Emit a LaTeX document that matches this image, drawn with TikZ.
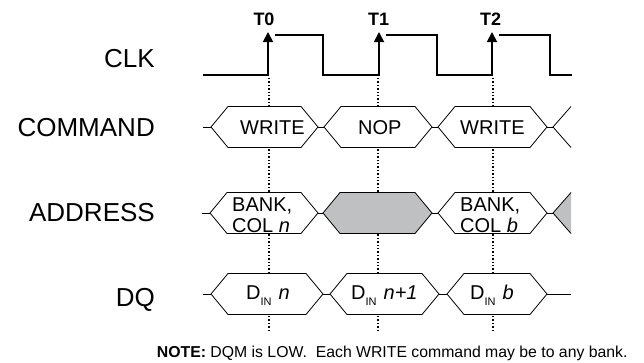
\documentclass[tikz,border=0pt]{standalone}
\usepackage{fontspec}
\setmainfont{Liberation Sans}
\usetikzlibrary{arrows.meta}
\definecolor{busgray}{RGB}{191,192,194}
\tikzset{
  signame/.style={font=\fontsize{26}{28}\selectfont, anchor=base east, inner sep=0pt},
  edgename/.style={font=\bfseries\fontsize{18}{20}\selectfont, anchor=base, inner sep=0pt},
  buslabel/.style={font=\fontsize{20}{21}\selectfont, anchor=base west, inner sep=0pt},
  clkline/.style={line width=1.8pt},
  busline/.style={line width=0.8pt},
  guide/.style={line width=1.4pt, dash pattern=on 1.4pt off 2pt},
  edgetip/.style={-{Triangle[width=10pt,length=10pt]}},
}
\newcommand{\din}[1]{D\raisebox{-6pt}{\fontsize{11}{11}\selectfont IN}\hspace{7pt}\textit{#1}}
\begin{document}
\begin{tikzpicture}[x=1pt,y=-1pt]
	\useasboundingbox (0,0) rectangle (644,362);

	% Signal names
	\node[signame] (clk) at (155,67) {CLK};
	\node[signame] (cmd) at (155,136.5) {COMMAND};
	\node[signame] (addr) at (155,221.5) {ADDRESS};
	\node[signame] (dq) at (155,306.5) {DQ};

	% Clock edge names
	\foreach \t/\x in {0/264,1/378.5,2/490.5}
	\node[edgename] (T\t) at (\x,25.5) {T\t};

	% Draw dotted guides at the rising edges
	\foreach \x in {269,378,493}
	\draw[guide] (\x,78) -- (\x,332);

	% Draw clock
	\draw[clkline, edgetip] (203,75) -- (268,75) -- (268,32);
	\draw[clkline, edgetip] (275,35) -- (323,35) -- (323,75) -- (379,75) -- (379,32);
	\draw[clkline, edgetip] (386,35) -- (437,35) -- (437,75) -- (492,75) -- (492,32);
	\draw[clkline] (499,35) -- (550,35) -- (550,75) -- (572,75);

	% Command bus
	\foreach \l/\r in {211/318, 324/432, 438/547}
	\draw[busline, fill=white] (\l,127) -- ({\l+17},106.5) -- ({\r-17},106.5) -- (\r,127) -- ({\r-17},147.5) -- ({\l+17},147.5) -- cycle;
	\draw[busline] (203,127) -- (211,127) (318,127) -- (324,127) (432,127) -- (438,127) (547,127) -- (553,127);
	\draw[busline] (571,106.5) -- (553,127) -- (571,147.5);
	\node[buslabel] (write0) at (240,134) {WRITE};
	\node[buslabel] (nop) at (358,134) {NOP};
	\node[buslabel] (write2) at (460,134) {WRITE};

	% Address bus
	\foreach \l/\r/\c in {210/318/white, 323/432/busgray, 438/547/white}
	\draw[busline, fill=\c] (\l,213) -- ({\l+17},192.5) -- ({\r-17},192.5) -- (\r,213) -- ({\r-17},233.5) -- ({\l+17},233.5) -- cycle;
	\draw[busline] (202,213) -- (210,213) (318,213) -- (323,213) (432,213) -- (438,213) (547,213) -- (553,213);
	\fill[busgray] (553,213) -- (571,192.5) -- (571,233.5) -- cycle;
	\draw[busline] (571,192.5) -- (553,213) -- (571,233.5);
	\node[buslabel] (bank0) at (232,211.5) {BANK,};
	\node[buslabel] (col0) at (232,232) {COL \textit{n}};
	\node[buslabel] (bank2) at (460,211.5) {BANK,};
	\node[buslabel] (col2) at (460,232) {COL \textit{b}};

	% Data bus
	\foreach \l/\r in {211/323, 330/439, 447/547}
	\draw[busline, fill=white] (\l,294) -- ({\l+17},273.5) -- ({\r-17},273.5) -- (\r,294) -- ({\r-17},314.5) -- ({\l+17},314.5) -- cycle;
	\draw[busline] (203,294) -- (211,294) (323,294) -- (330,294) (439,294) -- (447,294) (547,294) -- (571,294);
	\node[buslabel] (din0) at (246,299.5) {\din{n}};
	\node[buslabel] (din1) at (351,299.5) {\din{n+1}};
	\node[buslabel] (din2) at (470,299.5) {\din{b}};

	% Note below the picture
	\node[anchor=base west, inner sep=0pt, font=\fontsize{15.8}{17}\selectfont] (note) at (156.7,357.3) {\textbf{NOTE:} DQM is LOW.~ Each WRITE command may be to any bank.};
\end{tikzpicture}
\end{document}
